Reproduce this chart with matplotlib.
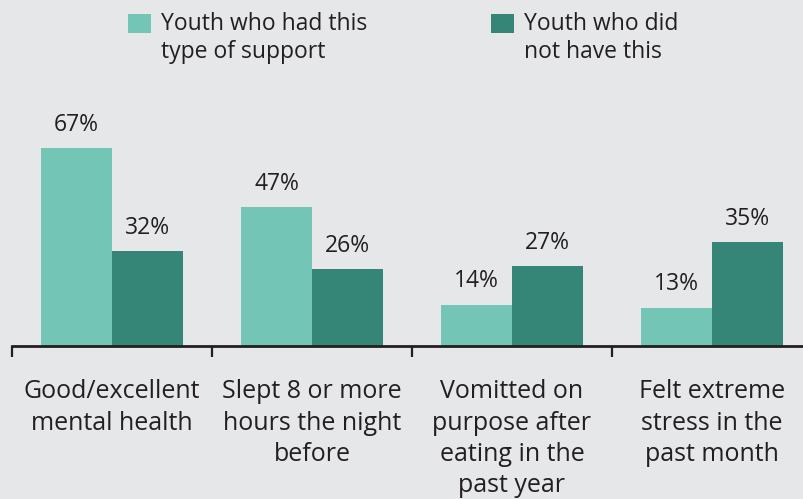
import matplotlib
matplotlib.use("Agg")
import matplotlib.pyplot as plt
from matplotlib.patches import Rectangle

categories = [
    "Good/excellent\nmental health",
    "Slept 8 or more\nhours the night\nbefore",
    "Vomitted on\npurpose after\neating in the\npast year",
    "Felt extreme\nstress in the\npast month",
]
had_support = [67, 47, 14, 13]
no_support = [32, 26, 27, 35]
series_names = ["Youth who had this\ntype of support", "Youth who did\nnot have this"]

BG = "#e6e7e9"
LIGHT = "#73c6b6"
DARK = "#358677"
TEXT = "#231f20"

plt.rcParams['font.family'] = ['Open Sans', 'DejaVu Sans']
FS_CAT = 18
FS_VAL = 16.5
FS_LEG = 16.5

fig = plt.figure(figsize=(8.04, 4.99), dpi=100, facecolor=BG)
# one group per 200 px, starting at x=12 px; the last group runs off the canvas
ax = fig.add_axes([12 / 804, 153 / 499, 800 / 804, 296 / 499])
ax.set_facecolor(BG)

w = 0.355
xs = [i + 0.5 for i in range(len(categories))]
b1 = ax.bar([x - w / 2 for x in xs], had_support, width=w, color=LIGHT)
b2 = ax.bar([x + w / 2 for x in xs], no_support, width=w, color=DARK)

for bars in (b1, b2):
    ax.bar_label(bars, labels=[f"{int(v)}%" for v in bars.datavalues],
                 padding=8, fontsize=FS_VAL, color=TEXT)

ax.set_xlim(0, 4)
ax.set_ylim(0, 100)
for s in ("left", "right", "top"):
    ax.spines[s].set_visible(False)
ax.spines["bottom"].set_color(TEXT)
ax.spines["bottom"].set_linewidth(2)
ax.set_yticks([])

ax.set_xticks([0, 1, 2, 3, 4])
ax.set_xticklabels([])
ax.tick_params(axis="x", which="major", direction="out", length=8, width=1.6, color=TEXT)
ax.set_xticks(xs, minor=True)
ax.set_xticklabels(categories, minor=True, fontsize=FS_CAT, color=TEXT, linespacing=1.33)
ax.tick_params(axis="x", which="minor", length=0, pad=24)

# legend: square aligned with the first text line
leg_x = [128, 491]
for name, color, x0 in zip(series_names, (LIGHT, DARK), leg_x):
    fig.add_artist(Rectangle((x0 / 804, 1 - 33 / 499), 23 / 804, 19 / 499,
                             transform=fig.transFigure, facecolor=color, edgecolor="none"))
    fig.text((x0 + 33) / 804, 1 - 12 / 499, name, fontsize=FS_LEG, color=TEXT,
             va="top", ha="left", linespacing=1.22)

fig.savefig("out.png", dpi=100, facecolor=BG)
